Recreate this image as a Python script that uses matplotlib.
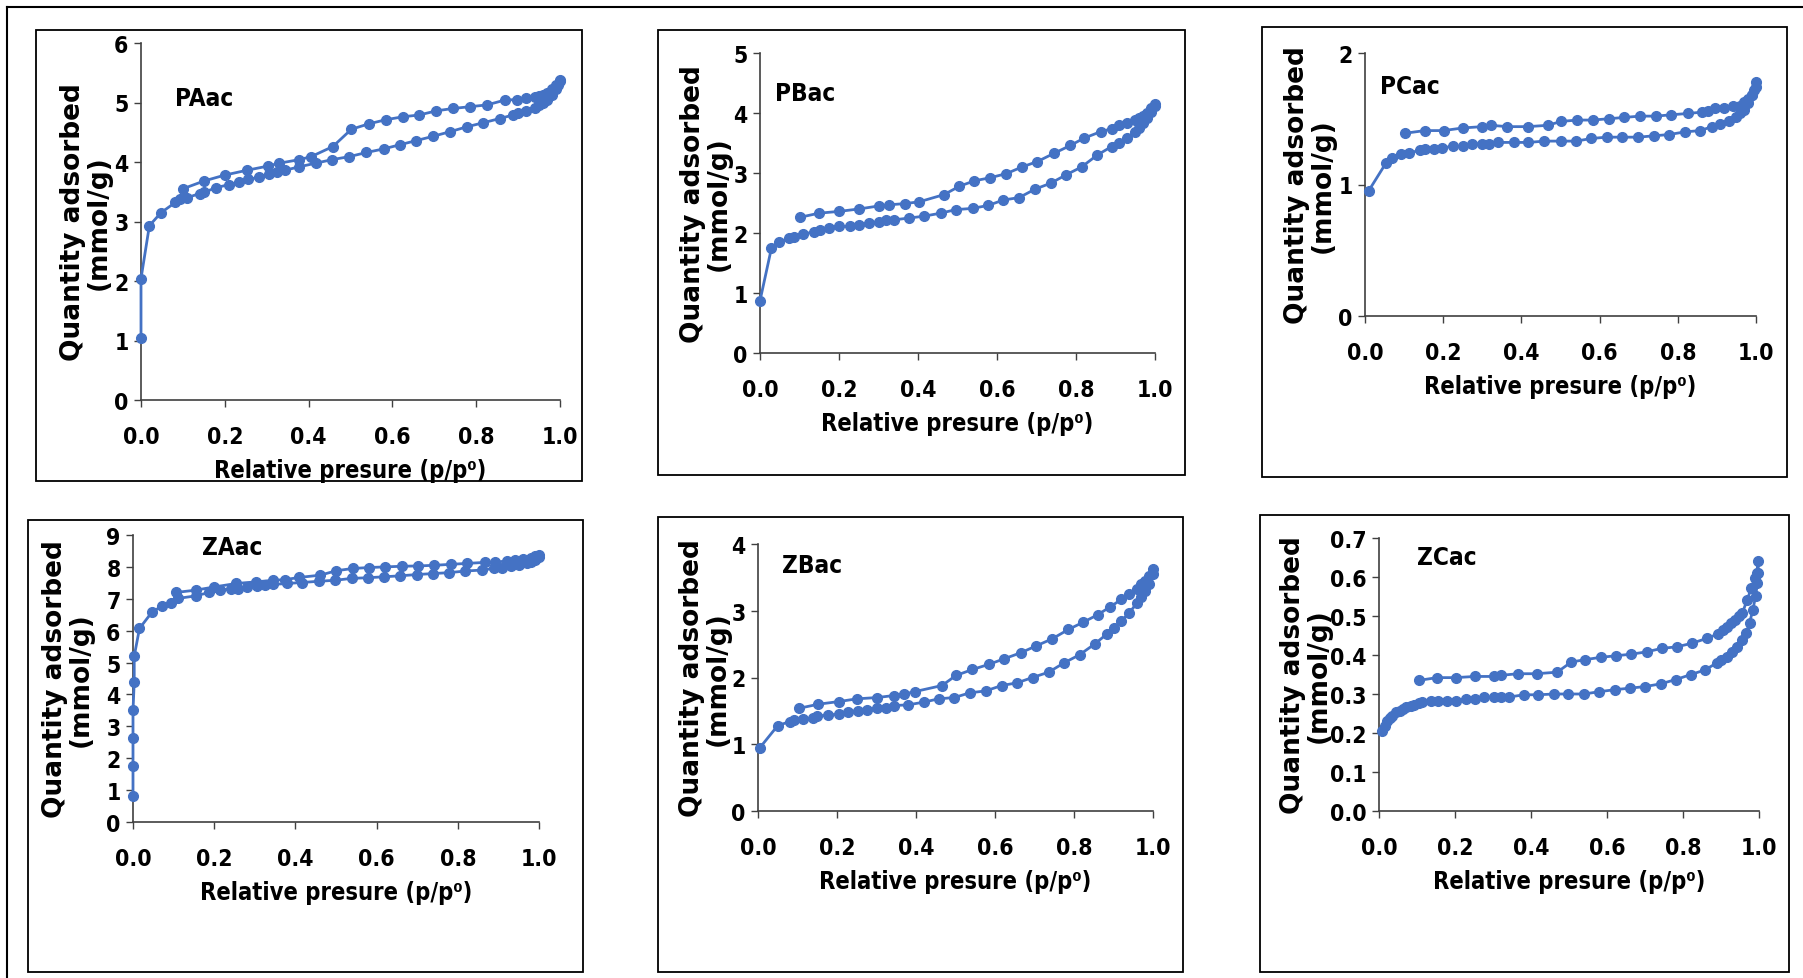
import numpy as np
import matplotlib.pyplot as plt
from matplotlib.patches import Rectangle
from matplotlib.lines import Line2D
from matplotlib import font_manager

# ---- data read from the isotherms (adsorption up, desorption back down) ----
PAac_ads_p = [0, 0, 0.02, 0.048, 0.082, 0.092, 0.11, 0.14, 0.15, 0.18, 0.21, 0.234, 0.256, 0.282, 0.305,
              0.324, 0.343, 0.378, 0.417, 0.456, 0.497, 0.538, 0.579, 0.618, 0.657, 0.696, 0.738, 0.777,
              0.817, 0.856, 0.888, 0.9, 0.92, 0.94, 0.95, 0.96, 0.97, 0.98, 0.99, 0.995, 1.0]
PAac_ads_q = [1.04, 2.04, 2.93, 3.15, 3.32, 3.37, 3.40, 3.47, 3.49, 3.57, 3.62, 3.66, 3.71, 3.74, 3.79,
              3.83, 3.86, 3.92, 3.98, 4.04, 4.09, 4.16, 4.22, 4.29, 4.36, 4.43, 4.51, 4.59,
              4.66, 4.73, 4.79, 4.82, 4.86, 4.91, 4.95, 5.00, 5.05, 5.12, 5.22, 5.30, 5.36]
PAac_des_p = [1.0, 0.99, 0.98, 0.97, 0.96, 0.95, 0.94, 0.92, 0.897, 0.868, 0.826, 0.786, 0.745, 0.705,
              0.664, 0.625, 0.584, 0.543, 0.502, 0.458, 0.406, 0.378, 0.33, 0.302, 0.252, 0.2, 0.15, 0.1]
PAac_des_q = [5.38, 5.30, 5.22, 5.16, 5.13, 5.11, 5.09, 5.07, 5.05, 5.04, 4.96, 4.93, 4.90, 4.86,
              4.79, 4.76, 4.71, 4.64, 4.55, 4.26, 4.09, 4.04, 3.98, 3.93, 3.86, 3.78, 3.68, 3.55]

PBac_ads_p = [0, 0.029, 0.047, 0.074, 0.086, 0.11, 0.136, 0.153, 0.175, 0.2, 0.227, 0.25, 0.275, 0.3,
              0.32, 0.34, 0.378, 0.415, 0.457, 0.496, 0.538, 0.578, 0.616, 0.656, 0.696, 0.736, 0.775,
              0.814, 0.854, 0.89, 0.91, 0.93, 0.95, 0.96, 0.97, 0.98, 0.99, 1.0]
PBac_ads_q = [0.87, 1.75, 1.85, 1.91, 1.94, 1.98, 2.02, 2.05, 2.09, 2.11, 2.11, 2.13, 2.16, 2.19,
              2.21, 2.22, 2.25, 2.28, 2.33, 2.39, 2.41, 2.46, 2.55, 2.59, 2.73, 2.83, 2.97,
              3.10, 3.30, 3.44, 3.50, 3.58, 3.68, 3.75, 3.83, 3.92, 4.02, 4.12]
PBac_des_p = [1.0, 0.99, 0.98, 0.97, 0.96, 0.95, 0.93, 0.91, 0.892, 0.863, 0.82, 0.786, 0.745, 0.702,
              0.663, 0.624, 0.582, 0.543, 0.505, 0.466, 0.403, 0.367, 0.327, 0.3, 0.25, 0.2, 0.149, 0.1]
PBac_des_q = [4.15, 4.08, 4.00, 3.95, 3.92, 3.89, 3.84, 3.80, 3.74, 3.69, 3.58, 3.46, 3.33, 3.19,
              3.10, 2.99, 2.92, 2.87, 2.78, 2.64, 2.52, 2.49, 2.47, 2.45, 2.40, 2.36, 2.33, 2.26]

PCac_ads_p = [0.009, 0.053, 0.07, 0.092, 0.113, 0.14, 0.153, 0.177, 0.198, 0.225, 0.25, 0.273, 0.3,
              0.318, 0.341, 0.38, 0.418, 0.459, 0.5, 0.54, 0.579, 0.618, 0.658, 0.699, 0.738, 0.778,
              0.818, 0.857, 0.888, 0.908, 0.93, 0.95, 0.96, 0.97, 0.98, 0.99, 1.0]
PCac_ads_q = [0.95, 1.16, 1.20, 1.23, 1.24, 1.26, 1.27, 1.27, 1.28, 1.29, 1.29, 1.31, 1.31,
              1.31, 1.32, 1.32, 1.32, 1.33, 1.33, 1.33, 1.35, 1.36, 1.36, 1.36, 1.37, 1.38,
              1.40, 1.41, 1.44, 1.46, 1.48, 1.51, 1.54, 1.57, 1.62, 1.68, 1.74]
PCac_des_p = [1.0, 0.995, 0.99, 0.98, 0.97, 0.96, 0.94, 0.917, 0.896, 0.876, 0.861, 0.825, 0.783, 0.744,
              0.703, 0.663, 0.623, 0.582, 0.543, 0.502, 0.467, 0.416, 0.364, 0.323, 0.3, 0.25, 0.201,
              0.153, 0.103]
PCac_des_q = [1.78, 1.72, 1.68, 1.65, 1.63, 1.60, 1.60, 1.58, 1.58, 1.56, 1.55, 1.54, 1.53, 1.52,
              1.52, 1.51, 1.50, 1.49, 1.49, 1.48, 1.45, 1.44, 1.44, 1.45, 1.44, 1.43, 1.41,
              1.41, 1.39]

ZAac_ads_p = [0, 0, 0, 0, 0.003, 0.003, 0.016, 0.046, 0.072, 0.093, 0.11, 0.154, 0.188, 0.214, 0.242,
              0.258, 0.282, 0.305, 0.324, 0.345, 0.38, 0.416, 0.458, 0.498, 0.539, 0.579, 0.619, 0.658,
              0.699, 0.739, 0.779, 0.818, 0.859, 0.889, 0.91, 0.93, 0.95, 0.97, 0.98, 0.99, 1.0]
ZAac_ads_q = [0.82, 1.76, 2.62, 3.50, 4.39, 5.20, 6.07, 6.57, 6.78, 6.88, 7.01, 7.09, 7.20, 7.27, 7.32,
              7.32, 7.37, 7.41, 7.43, 7.45, 7.48, 7.51, 7.55, 7.58, 7.64, 7.66, 7.69, 7.72,
              7.76, 7.79, 7.82, 7.87, 7.90, 7.95, 7.98, 8.02, 8.07, 8.12, 8.16, 8.22, 8.30]
ZAac_des_p = [1.0, 0.99, 0.98, 0.96, 0.94, 0.92, 0.891, 0.866, 0.823, 0.783, 0.742, 0.703, 0.663, 0.621,
              0.582, 0.541, 0.501, 0.461, 0.41, 0.374, 0.345, 0.303, 0.254, 0.2, 0.154, 0.107]
ZAac_des_q = [8.38, 8.33, 8.29, 8.25, 8.22, 8.19, 8.14, 8.14, 8.11, 8.08, 8.05, 8.03, 8.02, 8.00,
              7.98, 7.95, 7.88, 7.74, 7.67, 7.60, 7.58, 7.53, 7.48, 7.37, 7.27, 7.20]

ZBac_ads_p = [0.005, 0.05, 0.081, 0.092, 0.113, 0.14, 0.149, 0.177, 0.205, 0.227, 0.252, 0.277, 0.302,
              0.323, 0.344, 0.38, 0.419, 0.457, 0.497, 0.536, 0.577, 0.617, 0.656, 0.695, 0.736, 0.775,
              0.814, 0.852, 0.883, 0.9, 0.92, 0.94, 0.96, 0.97, 0.98, 0.99, 1.0]
ZBac_ads_q = [0.95, 1.28, 1.34, 1.37, 1.38, 1.39, 1.42, 1.44, 1.45, 1.49, 1.50, 1.52, 1.54,
              1.55, 1.58, 1.59, 1.63, 1.68, 1.70, 1.77, 1.80, 1.88, 1.92, 2.00, 2.08, 2.22,
              2.34, 2.50, 2.65, 2.74, 2.85, 2.97, 3.12, 3.20, 3.30, 3.40, 3.55]
ZBac_des_p = [1.0, 0.99, 0.98, 0.97, 0.96, 0.94, 0.92, 0.892, 0.86, 0.824, 0.786, 0.745, 0.703, 0.665,
              0.623, 0.586, 0.543, 0.501, 0.466, 0.398, 0.369, 0.344, 0.302, 0.25, 0.205, 0.153, 0.105]
ZBac_des_q = [3.62, 3.52, 3.45, 3.40, 3.33, 3.25, 3.17, 3.06, 2.94, 2.83, 2.72, 2.58, 2.47, 2.37,
              2.28, 2.20, 2.12, 2.03, 1.88, 1.79, 1.75, 1.73, 1.70, 1.68, 1.64, 1.60, 1.54]

ZCac_ads_p = [0.009, 0.015, 0.021, 0.028, 0.035, 0.044, 0.054, 0.063, 0.072, 0.083, 0.093, 0.105, 0.114,
              0.137, 0.154, 0.179, 0.202, 0.228, 0.253, 0.276, 0.302, 0.322, 0.341, 0.381, 0.419, 0.461,
              0.498, 0.54, 0.58, 0.62, 0.66, 0.7, 0.741, 0.781, 0.821, 0.859, 0.889, 0.901, 0.915,
              0.929, 0.943, 0.954, 0.966, 0.975, 0.984, 0.991, 0.996, 0.998, 0.998]
ZCac_ads_q = [0.205, 0.218, 0.231, 0.238, 0.244, 0.255, 0.257, 0.262, 0.266, 0.268, 0.273, 0.276, 0.279,
              0.281, 0.281, 0.283, 0.283, 0.287, 0.287, 0.292, 0.292, 0.292, 0.292, 0.298, 0.298, 0.300,
              0.300, 0.300, 0.306, 0.311, 0.315, 0.319, 0.326, 0.337, 0.350, 0.362, 0.380, 0.387, 0.395,
              0.408, 0.421, 0.438, 0.456, 0.482, 0.516, 0.551, 0.585, 0.611, 0.641]
ZCac_des_p = [0.994, 0.989, 0.98, 0.969, 0.956, 0.947, 0.938, 0.926, 0.915, 0.904, 0.892, 0.864, 0.823,
              0.784, 0.744, 0.704, 0.663, 0.623, 0.583, 0.542, 0.506, 0.469, 0.415, 0.366, 0.322, 0.302,
              0.252, 0.202, 0.153, 0.105]
ZCac_des_q = [0.611, 0.598, 0.572, 0.542, 0.507, 0.499, 0.490, 0.482, 0.473, 0.464, 0.454, 0.443, 0.430,
              0.421, 0.417, 0.408, 0.402, 0.398, 0.394, 0.388, 0.382, 0.356, 0.352, 0.352, 0.348, 0.345,
              0.345, 0.342, 0.342, 0.335]

names = ['PAac', 'PBac', 'PCac', 'ZAac', 'ZBac', 'ZCac']
series = [(PAac_ads_p, PAac_ads_q, PAac_des_p, PAac_des_q),
          (PBac_ads_p, PBac_ads_q, PBac_des_p, PBac_des_q),
          (PCac_ads_p, PCac_ads_q, PCac_des_p, PCac_des_q),
          (ZAac_ads_p, ZAac_ads_q, ZAac_des_p, ZAac_des_q),
          (ZBac_ads_p, ZBac_ads_q, ZBac_des_p, ZBac_des_q),
          (ZCac_ads_p, ZCac_ads_q, ZCac_des_p, ZCac_des_q)]
y_max = [6, 5, 2, 9, 4, 0.7]
y_step = [1, 1, 1, 1, 1, 0.1]
y_fmt = ['{:.0f}', '{:.0f}', '{:.0f}', '{:.0f}', '{:.0f}', '{:.1f}']
x_ticks = [0.0, 0.2, 0.4, 0.6, 0.8, 1.0]

# ---- layout (pixels of the 1803x979 picture) ----
W, H = 1803, 979
axes_px = [(141, 560, 44, 401), (760, 1155, 54, 354), (1365, 1756, 54, 317),
           (133, 539, 536, 823), (758, 1153, 545, 812), (1379, 1759, 539, 812)]
box_px = [(36, 582, 31, 482), (658, 1185, 31, 476), (1262, 1787, 28, 478),
          (28, 583, 521, 973), (658, 1183, 518, 973), (1260, 1789, 516, 973)]
label_x_px = [86, 706, 1310, 68, 705, 1306]
name_pos = [(0.08, 0.845), (0.038, 0.868), (0.038, 0.874), (0.17, 0.959), (0.061, 0.922), (0.10, 0.932)]

blue = '#4472C4'

# narrow bold face for ticks and x labels (Arial Narrow look)
narrow = font_manager.FontProperties(family='DejaVu Sans', weight='bold', stretch='condensed', size=16.5)
narrow_lab = narrow.copy()
narrow_lab.set_size(17)
narrow_name = narrow.copy()
narrow_name.set_size(17.5)

fig = plt.figure(figsize=(W / 100, H / 100), dpi=100)

# outer frame (top and left edges only are visible)
fig.add_artist(Line2D([7 / W, 1], [1 - 8 / H, 1 - 8 / H], color='black', lw=1.5))
fig.add_artist(Line2D([7 / W, 7 / W], [0, 1 - 8 / H], color='black', lw=1.5))

for i in range(6):
    x0, x1, y0, y1 = box_px[i]
    fig.add_artist(Rectangle((x0 / W, 1 - y1 / H), (x1 - x0) / W, (y1 - y0) / H,
                             fill=False, edgecolor='black', lw=1.3))

    l, r, t, b = axes_px[i]
    ax = fig.add_axes([l / W, 1 - b / H, (r - l) / W, (b - t) / H])
    ap, aq, dp, dq = series[i]
    p = np.concatenate([ap, dp])
    q = np.concatenate([aq, dq])
    ax.plot(p, q, color=blue, lw=2, marker='o', markersize=7, clip_on=False, zorder=3)

    ax.set_xlim(0, 1)
    ax.set_ylim(0, y_max[i])
    yt = np.arange(0, y_max[i] + y_step[i] / 2, y_step[i])
    ax.set_yticks(yt)
    ax.set_yticklabels([y_fmt[i].format(v) for v in yt], fontproperties=narrow)
    ax.set_xticks(x_ticks)
    ax.set_xticklabels(['{:.1f}'.format(v) for v in x_ticks], fontproperties=narrow)
    ax.tick_params(direction='out', length=5, width=1, color='#404040', pad=4)
    ax.tick_params(axis='x', pad=13)
    for s in ['top', 'right']:
        ax.spines[s].set_visible(False)
    for s in ['left', 'bottom']:
        ax.spines[s].set_color('#404040')
        ax.spines[s].set_linewidth(1.2)
    ax.set_facecolor('none')

    ax.set_xlabel('Relative presure (p/p\u2070)', fontproperties=narrow_lab, labelpad=7)
    fig.text(label_x_px[i] / W, 1 - (t + b) / 2 / H, 'Quantity adsorbed\n(mmol/g)', rotation=90,
             ha='center', va='center', family='DejaVu Sans', fontweight='bold', fontsize=19,
             linespacing=1.0)
    ax.text(name_pos[i][0], name_pos[i][1], names[i], transform=ax.transAxes, ha='left', va='center',
            fontproperties=narrow_name)

fig.savefig('out.png', dpi=100)
